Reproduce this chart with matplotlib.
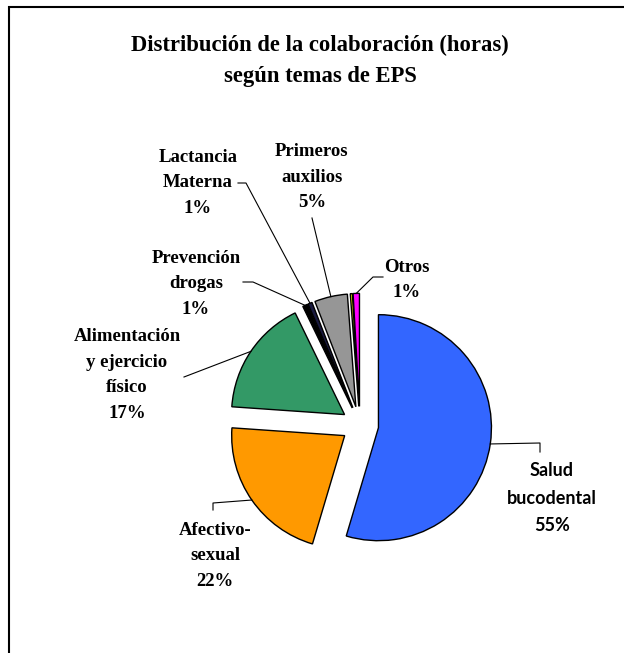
import numpy as np
import matplotlib
matplotlib.use("Agg")
import matplotlib.pyplot as plt
from matplotlib.patches import Rectangle

# data (hours share per EPS topic), clockwise from 12 o'clock
temas = ["Salud bucodental", "Afectivo-sexual", "Alimentación y ejercicio físico",
         "Prevención drogas", "Lactancia Materna", "Primeros auxilios", "", "Otros"]
valores = [54.6, 21.5, 16.7, 0.7, 0.6, 4.7, 0.3, 0.9]
colores = ["#3366FF", "#FF9900", "#339966", "#000000", "#1a1a40", "#969696",
           "#FFFF00", "#FF00FF"]
etiquetas = ["Salud\nbucodental", "Afectivo-\nsexual", "Alimentación\ny ejercicio\nfísico",
             "Prevención\ndrogas", "Lactancia\nMaterna", "Primeros\nauxilios", None, "Otros"]

W, H = 624, 653
CX, CY, R = 360, 425, 113   # pie centre / radius in pixels


def px(x, y):
    return (x - CX) / R, (CY - y) / R


fig = plt.figure(figsize=(W / 100, H / 100), dpi=100)
ax = fig.add_axes([0, 0, 1, 1])

wedges, _ = ax.pie(valores, colors=colores, startangle=90, counterclock=False,
                   explode=[0.165] * len(valores),
                   wedgeprops=dict(edgecolor="black", linewidth=1.0))

ax.set_xlim(-CX / R, (W - CX) / R)
ax.set_ylim((CY - H) / R, CY / R)
ax.axis("off")

# label centre + leader knee points, in pixels
layout = {
    0: ((552, 498), [(540, 452), (540, 443)]),
    1: ((215, 556), [(213, 510), (213, 503)]),
    2: ((127, 375), [(184, 377)]),
    3: ((196, 284), [(243, 282), (253, 282)]),
    4: ((198, 183), [(238, 183), (246, 183)]),
    5: ((312, 177), [(312, 218)]),
    7: ((407, 280), [(383, 277), (373, 277)]),
}

for i, ((lx, ly), knees) in layout.items():
    w = wedges[i]
    mid = np.deg2rad((w.theta1 + w.theta2) / 2)
    ex = w.center[0] + w.r * np.cos(mid)
    ey = w.center[1] + w.r * np.sin(mid)
    pts = [px(*k) for k in knees] + [(ex, ey)]
    ax.plot([p[0] for p in pts], [p[1] for p in pts], color="black", lw=0.8)

    pct = f"{round(valores[i] / sum(valores) * 100)}%"
    txt = etiquetas[i] + "\n" + pct
    tx, ty = px(lx, ly)
    if i == 0:
        ax.text(tx, ty, txt, ha="center", va="center", fontsize=13,
                fontweight="bold", family="Lato", linespacing=1.75)
    else:
        ax.text(tx, ty, txt, ha="center", va="center", fontsize=13.5,
                fontweight="bold", family="Liberation Serif", linespacing=1.66)

fig.text(320 / W, 1 - 61 / H, "Distribución de la colaboración (horas)\nsegún temas de EPS",
         ha="center", va="center", fontsize=16.3, fontweight="bold",
         family="Liberation Serif", linespacing=1.65)

# chart-area border (only top and left visible in the crop)
fig.add_artist(Rectangle((9 / W, -0.1), 2, 1.1 - 7 / H, transform=fig.transFigure,
                         fill=False, edgecolor="black", linewidth=1.5))

fig.savefig("out.png", dpi=100)
